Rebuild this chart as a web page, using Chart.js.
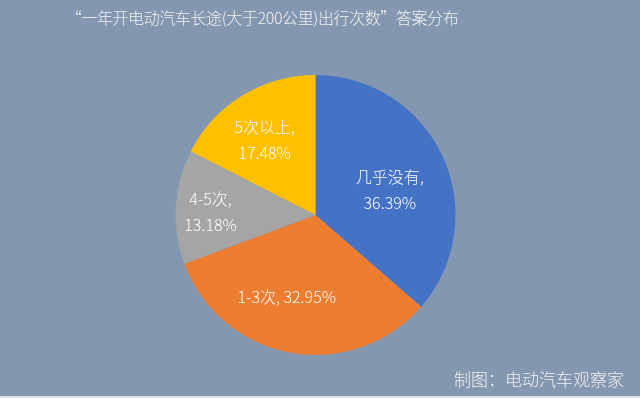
<!DOCTYPE html>
<html>
<head>
<meta charset="utf-8">
<script src="https://cdn.jsdelivr.net/npm/chart.js@4"></script>
<style>
  html, body { margin: 0; padding: 0; background: #dde2ea; }
  #wrap { width: 640px; height: 396px; background: #8497b0; }
</style>
</head>
<body>
<div id="wrap"><canvas id="chart"></canvas></div>
<script>
  // 数据
  const categories = ['几乎没有', '1-3次', '4-5次', '5次以上'];
  const shares = [36.39, 32.95, 13.18, 17.48];
  const sliceColors = ['#4472c4', '#ed7d31', '#a5a5a5', '#ffc000'];

  const titleText = '“一年开电动汽车长途(大于200公里)出行次数”答案分布';
  const sourceText = '制图：电动汽车观察家';

  // 标签位置 (半径比例, 角度偏移度数, 是否两行)
  const labelLayout = [
      { r: 0.56, da: 6, twoLines: true },
      { r: 0.62, da: 9, twoLines: false },
      { r: 0.75, da: -1.5, twoLines: true },
      { r: 0.65, da: -2.5, twoLines: true }
  ];

  const FONT = '"Noto Sans CJK SC", "Noto Sans", sans-serif';

  const textPlugin = {
      id: 'textPlugin',
      afterDatasetsDraw(chart) {
          const ctx = chart.ctx;
          const meta = chart.getDatasetMeta(0);
          ctx.save();
          ctx.fillStyle = '#ffffff';
          ctx.textAlign = 'center';
          ctx.textBaseline = 'middle';
          ctx.font = '300 16px ' + FONT;
          meta.data.forEach((arc, i) => {
              const p = arc.getProps(['x', 'y', 'startAngle', 'endAngle', 'outerRadius'], true);
              const lay = labelLayout[i];
              const mid = (p.startAngle + p.endAngle) / 2 + lay.da * Math.PI / 180;
              const r = p.outerRadius * lay.r;
              const cx = p.x + Math.cos(mid) * r;
              const cy = p.y + Math.sin(mid) * r;
              const pct = shares[i].toFixed(2) + '%';
              if (lay.twoLines) {
                  ctx.fillText(categories[i] + ',', cx, cy - 13);
                  ctx.fillText(pct, cx, cy + 13);
              } else {
                  ctx.fillText(categories[i] + ', ' + pct, cx, cy);
              }
          });

          ctx.fillStyle = '#f2f2f2';
          ctx.font = '300 16px ' + FONT;
          ctx.letterSpacing = '-0.4px';
          ctx.fillText(titleText, 262, 18);
          ctx.letterSpacing = '0px';

          ctx.textAlign = 'right';
          ctx.font = '300 17px ' + FONT;
          ctx.fillText(sourceText, 624, 380);
          ctx.restore();
      }
  };

  new Chart(document.getElementById('chart'), {
      type: 'pie',
      data: {
          labels: categories,
          datasets: [{
              data: shares,
              backgroundColor: sliceColors,
              borderWidth: 0
          }]
      },
      options: {
          responsive: true,
          maintainAspectRatio: false,
          animation: false,
          layout: { padding: { top: 75, bottom: 41, left: 0, right: 9 } },
          plugins: {
              legend: { display: false },
              title: { display: false },
              tooltip: { enabled: false }
          }
      },
      plugins: [textPlugin]
  });
</script>
</body>
</html>
